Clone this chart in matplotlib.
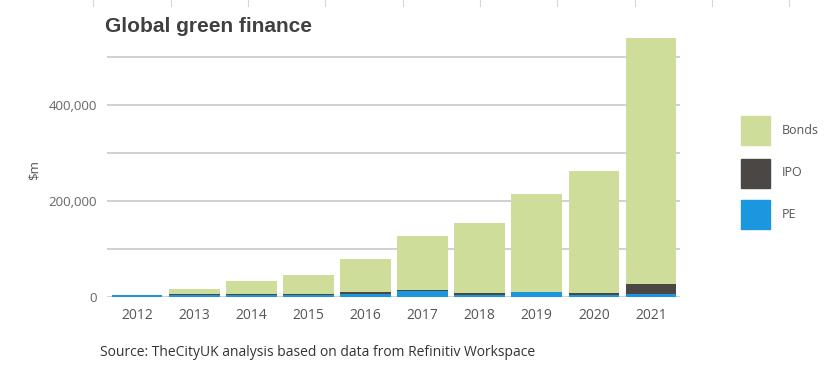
import matplotlib.pyplot as plt
import numpy as np

years = ["2012", "2013", "2014", "2015", "2016", "2017", "2018", "2019", "2020", "2021"]
pe = [4000, 4000, 5000, 5000, 6000, 13000, 5000, 10000, 5000, 6000]
ipo = [1000, 3000, 2000, 2000, 4000, 1000, 3000, 1000, 3000, 21000]
bonds = [0, 9000, 27000, 39000, 69000, 113000, 146000, 204000, 254000, 513000]

c_bonds = "#cedd9a"
c_ipo = "#4b4744"
c_pe = "#1b97e0"
txt = "#555555"

fig = plt.figure(figsize=(8.32, 3.76), dpi=100)
ax = fig.add_axes([107 / 832, 1 - 297 / 376, (679.6 - 107) / 832, (297 - 28.2) / 376])

x = np.arange(len(years))
w = 0.89
for g in range(100000, 600000, 100000):
    ax.axhline(g, color="#c8c8c8", lw=1.2, zorder=0)
ax.axhline(0, color="#c8c8c8", lw=1.2, zorder=0)

ax.bar(x, pe, w, color=c_pe, zorder=2)
ax.bar(x, ipo, w, bottom=pe, color=c_ipo, zorder=2)
ax.bar(x, bonds, w, bottom=np.array(pe) + np.array(ipo), color=c_bonds, zorder=2)

ax.set_xlim(-0.525, 9.5)
ax.set_ylim(0, 560000)
ax.set_xticks(x)
ax.set_xticklabels(years, fontsize=10, color=txt, family="Open Sans")
ax.set_yticks([0, 200000, 400000])
ax.set_yticklabels(["0", "200,000", "400,000"], fontsize=9.5, color="#666666", family="Open Sans")
ax.tick_params(length=0, pad=8)
ax.tick_params(axis="y", pad=7)
for s in ax.spines.values():
    s.set_visible(False)

fig.text(34 / 832, 1 - 170 / 376, "$m", rotation=90, ha="center", va="center",
         fontsize=9.5, color=txt, family="Open Sans")
fig.text(105 / 832, 1 - 32 / 376, "Global green finance", fontsize=15, fontweight="bold",
         color="#404040", family="Liberation Sans", va="baseline")
fig.text(100 / 832, 1 - 353 / 376,
         "Source: TheCityUK analysis based on data from Refinitiv Workspace",
         fontsize=10, color="#333333", family="Open Sans", va="center")

# legend swatches
for i, (lab, col) in enumerate([("Bonds", c_bonds), ("IPO", c_ipo), ("PE", c_pe)]):
    yc = [130, 173, 214][i]
    fig.patches.append(plt.Rectangle((741 / 832, 1 - (yc + 14.5) / 376), 29 / 832, 29 / 376,
                                     transform=fig.transFigure, color=col))
    fig.text(782 / 832, 1 - yc / 376, lab, fontsize=9, color=txt, family="Open Sans",
             va="center")

# faint ruler ticks along the top edge
for tx in [93, 171, 248, 325, 403, 480, 557, 635, 712, 789]:
    fig.add_artist(plt.Line2D([tx / 832, tx / 832], [1, 1 - 6 / 376], color="#d8d8d8", lw=0.8))

fig.savefig("out.png", dpi=100)
